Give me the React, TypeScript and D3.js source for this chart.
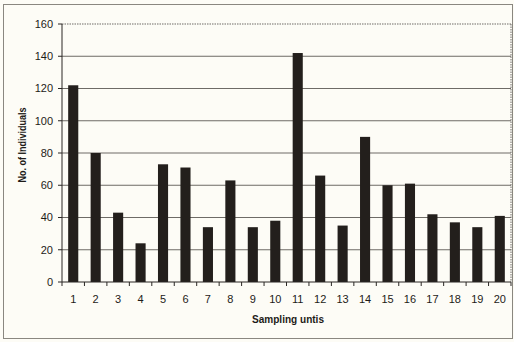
import React from "react";
import * as d3 from "d3";

const categories = ["1","2","3","4","5","6","7","8","9","10","11","12","13","14","15","16","17","18","19","20"];
const values = [122, 80, 43, 24, 73, 71, 34, 63, 34, 38, 142, 66, 35, 90, 60, 61, 42, 37, 34, 41];
const yTicks = [0, 20, 40, 60, 80, 100, 120, 140, 160];

const W = 514, H = 342;
const M = { left: 62, right: 511, top: 24, bottom: 282 };

export default function App() {
  const x = d3.scaleBand<string>().domain(categories).range([M.left, M.right]).paddingInner(0.55).paddingOuter(0.275);
  const xb = d3.scaleBand<string>().domain(categories).range([M.left, M.right]);
  const y = d3.scaleLinear().domain([0, 160]).range([M.bottom, M.top]);
  const font = "Arial, 'Liberation Sans', sans-serif";
  return (
    <svg width={W} height={H} style={{ position: "absolute", left: 0, top: 0, background: "#fdfcf6" }}>
      <rect x={0} y={0} width={W} height={H} fill="#fdfcf6" />
      <rect x={3.5} y={4.5} width={509} height={334} fill="none" stroke="#8a8780" strokeWidth={1} />
      {yTicks.filter(t => t > 0 && t < 160).map(t => (
        <line key={t} x1={M.left} x2={M.right} y1={y(t)} y2={y(t)} stroke="#6e6b66" strokeWidth={1} />
      ))}
      <line x1={M.left} x2={M.right} y1={y(160)} y2={y(160)} stroke="#6e6b66" strokeDasharray="1.5,1" />
      <line x1={M.right} x2={M.right} y1={y(160)} y2={y(0)} stroke="#6e6b66" strokeDasharray="1.5,1" />
      {values.map((v, i) => (
        <rect key={i} x={x(categories[i])} y={y(v)} width={x.bandwidth()} height={y(0) - y(v)} fill="#231f1c" />
      ))}
      <line x1={M.left} x2={M.left} y1={y(160)} y2={y(0)} stroke="#2a2724" strokeWidth={1} />
      <line x1={M.left} x2={M.right} y1={y(0)} y2={y(0)} stroke="#2a2724" strokeWidth={1} />
      {yTicks.map(t => (
        <g key={t}>
          <line x1={M.left - 4} x2={M.left} y1={y(t)} y2={y(t)} stroke="#2a2724" />
          <text x={53} y={y(t)} dy="0.35em" textAnchor="end" fontFamily={font} fontSize={11} fill="#1e1b18">{t}</text>
        </g>
      ))}
      {categories.map((c, i) => (
        <g key={c}>
          <line x1={(xb(c) as number) + xb.bandwidth()} x2={(xb(c) as number) + xb.bandwidth()} y1={y(0)} y2={y(0) + 4} stroke="#2a2724" />
          <text x={(xb(c) as number) + xb.bandwidth() / 2} y={299} dy="0.35em" textAnchor="middle" fontFamily={font} fontSize={11} fill="#1e1b18">{c}</text>
        </g>
      ))}
      <line x1={M.left} x2={M.left} y1={y(0)} y2={y(0) + 4} stroke="#2a2724" />
      <text x={288} y={319} dy="0.35em" textAnchor="middle" fontFamily={font} fontSize={10} fontWeight="bold" fill="#1e1b18" textLength={72} lengthAdjust="spacingAndGlyphs">Sampling untis</text>
      <text transform={`translate(22,145) rotate(-90)`} textAnchor="middle" dy="0.35em" fontFamily={font} fontSize={10} fontWeight="bold" fill="#1e1b18" textLength={75} lengthAdjust="spacingAndGlyphs">No. of Individuals</text>
    </svg>
  );
}
